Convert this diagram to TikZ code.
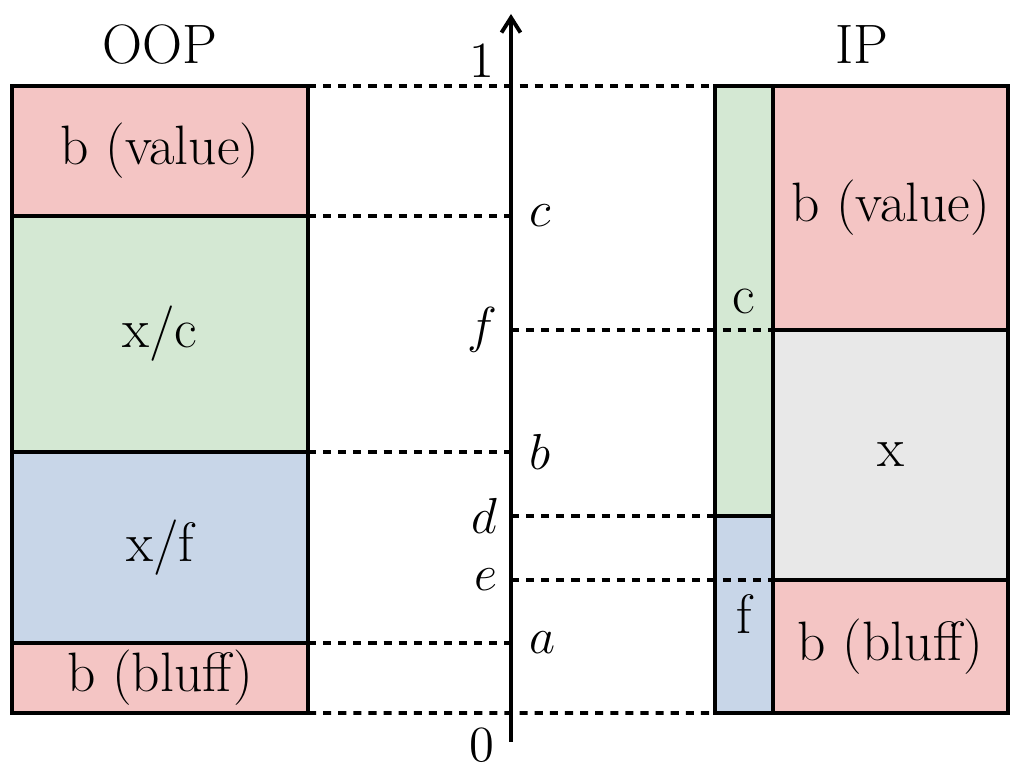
\documentclass[tikz,border=0pt]{standalone}
\usetikzlibrary{positioning,arrows.meta}
\definecolor{betred}{HTML}{F4C5C4}
\definecolor{callgreen}{HTML}{D4E8D3}
\definecolor{foldblue}{HTML}{C8D6E8}
\definecolor{checkgrey}{HTML}{E8E8E8}
\tikzset{
	part/.style 2 args={draw, line width=1.1pt, inner sep=0pt, outer sep=0pt, minimum width=#1, minimum height=#2},
	level/.style={line width=1.1pt, dash pattern=on 2.3pt off 2pt},
}

\begin{document}
\begin{tikzpicture}[font=\fontsize{15.8}{19}\selectfont]
			%%%%% START %%%%%
			\useasboundingbox (0, 0) rectangle (10.24, 7.72);
			
			% OOP column
			\node[part={2.96cm}{1.30cm}, fill=betred, anchor=north west] (oval) at (0.12, 6.86) {b (value)};
			\node[part={2.96cm}{2.36cm}, fill=callgreen, below=0pt of oval] (oxc) {x/c};
			\node[part={2.96cm}{1.91cm}, fill=foldblue, below=0pt of oxc] (oxf) {x/f};
			\node[part={2.96cm}{0.70cm}, fill=betred, below=0pt of oxf] (oblf) {b (bluff)};
			\node (oop) at (1.60, 7.27) {OOP};
			
			% IP columns
			\node[part={0.58cm}{4.30cm}, fill=callgreen, anchor=north west] (ic) at (7.15, 6.86) {c};
			\node[part={0.58cm}{1.97cm}, fill=foldblue, below=0pt of ic] (if) {f};
			\node[part={2.35cm}{2.44cm}, fill=betred, anchor=north west] (ival) at (7.73, 6.86) {b (value)};
			\node[part={2.35cm}{2.50cm}, fill=checkgrey, below=0pt of ival] (ix) {x};
			\node[part={2.35cm}{1.33cm}, fill=betred, below=0pt of ix] (iblf) {b (bluff)};
			\node (ip) at (8.62, 7.27) {IP};
			
			% axis
			\coordinate (bot) at (5.11, 0.30);
			\coordinate (top) at (5.11, 7.58);
			
			% levels
			\draw[level] (oval.north east) -- (ic.north west);
			\draw[level] (oblf.south east) -- (if.south west);
			\draw[level] (oval.south east) -- (oval.south east -| top) node[right, xshift=0.05cm] (lc) {$c$};
			\draw[level] (oxc.south east) -- (oxc.south east -| top) node[right, xshift=0.05cm] (lb) {$b$};
			\draw[level] (oxf.south east) -- (oxf.south east -| top) node[right, xshift=0.05cm] (la) {$a$};
			\draw[level] (ival.south west -| top) node[left] (lf) {$f$} -- (ival.south west);
			\draw[level] (ic.south west -| top) node[left] (ld) {$d$} -- (ic.south west);
			\draw[level] (ix.south west -| top) node[left] (le) {$e$} -- (ix.south west);
			
			\draw[line width=1.1pt, -{Straight Barb[length=1.5mm, width=1.9mm]}] (bot) -- (top);
			\node (one) at (4.82, 7.11) {$1$};
			\node (zero) at (4.82, 0.27) {$0$};
			
			%%%%% END %%%%%
\end{tikzpicture}
\end{document}
